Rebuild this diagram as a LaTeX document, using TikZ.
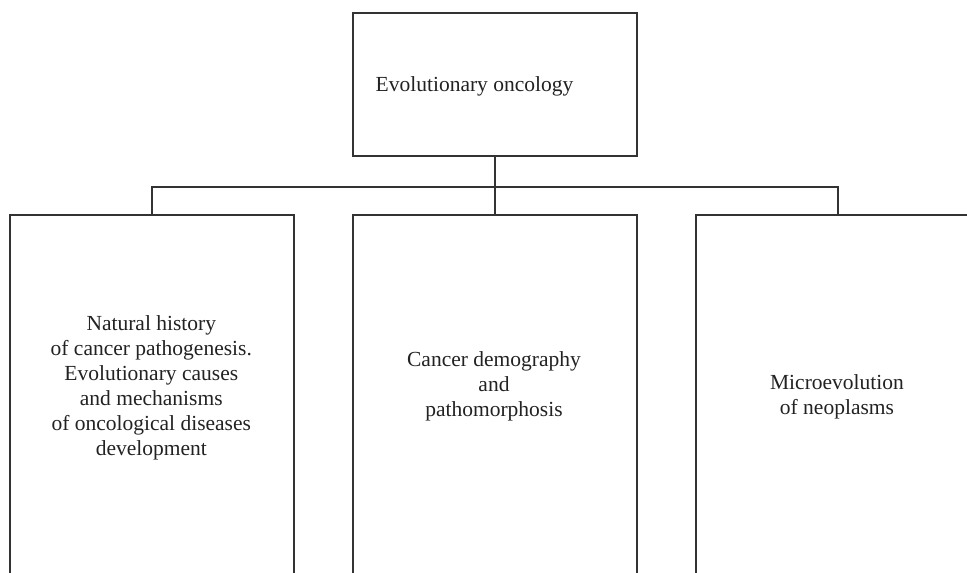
\documentclass[tikz,border=0pt]{standalone}
\usepackage{fontspec}
\setmainfont{Liberation Serif}
\definecolor{linec}{HTML}{333333}
\definecolor{textc}{HTML}{222222}
\begin{document}
\begin{tikzpicture}[x=1pt,y=-1pt,
  box/.style={draw=linec,line width=1.5pt,minimum width=284pt,inner sep=0pt,anchor=north west},
  lbl/.style={text=textc,font=\fontsize{21.5}{25}\selectfont,align=center,inner sep=0pt},
  conn/.style={draw=linec,line width=1.5pt}]
\useasboundingbox (0,0) rectangle (967,573);
\clip (0,0) rectangle (967,573);
\node[box,minimum height=143pt] (top) at (352,12) {};
\node[box,minimum height=400pt] (left) at (9.3,214.3) {};
\node[box,minimum height=400pt] (mid) at (352,214.3) {};
\node[box,minimum height=400pt] (right) at (695,214.3) {};
\node[text=textc,font=\fontsize{21.5}{25}\selectfont,inner sep=0pt,anchor=base west] (toplbl) at (375.5,91) {Evolutionary oncology};
\node[lbl] (leftlbl) at (151.3,387.5) {Natural history\\of cancer pathogenesis.\\Evolutionary causes\\and mechanisms\\of oncological diseases\\development};
\node[lbl] (midlbl) at (494,386) {Cancer demography\\and\\pathomorphosis};
\node[lbl] (rightlbl) at (837,396.5) {Microevolution\\of neoplasms};
\coordinate (jl) at (left.north |- 0,187);
\coordinate (jr) at (right.north |- 0,187);
\draw[conn] (top.south) -- (mid.north);
\draw[conn] (left.north) -- (jl) -- (jr) -- (right.north);
\end{tikzpicture}
\end{document}
